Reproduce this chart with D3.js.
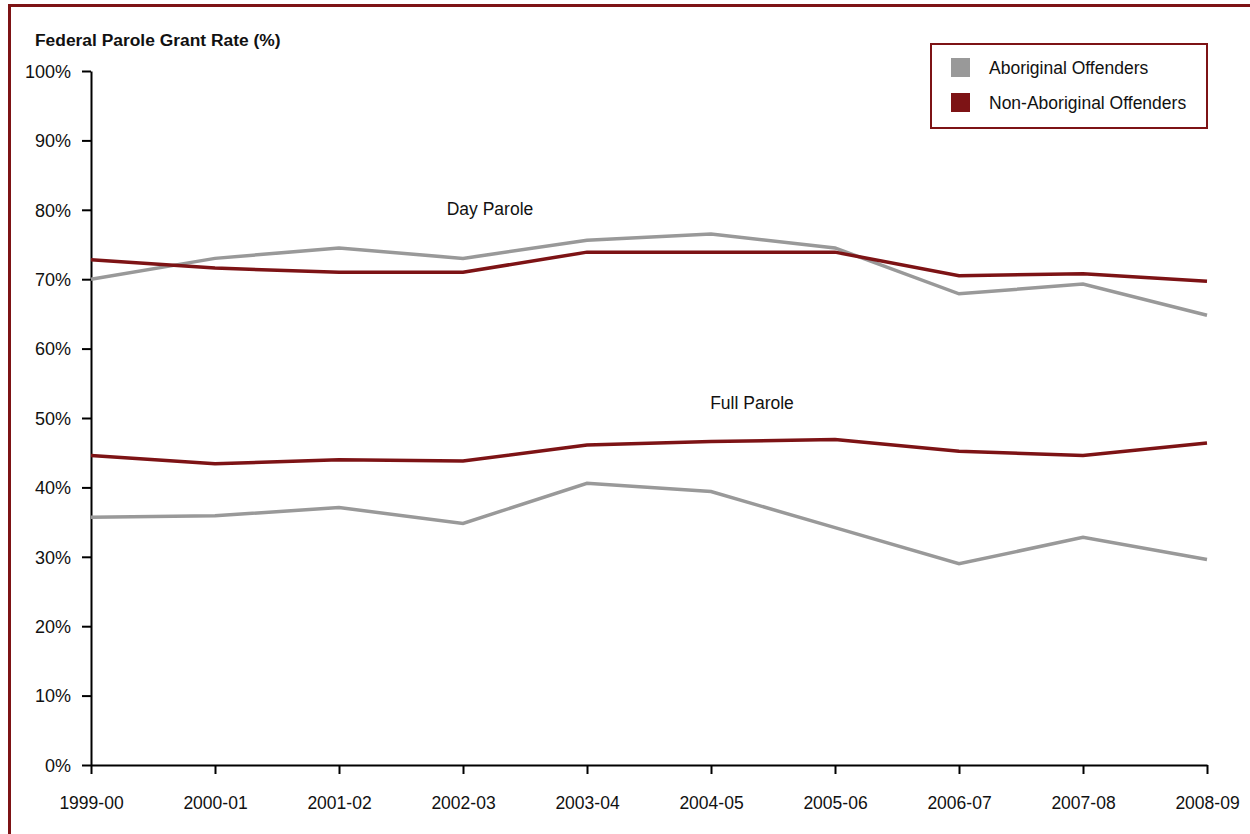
<!DOCTYPE html>
<html>
<head>
<meta charset="utf-8">
<script src="https://cdn.jsdelivr.net/npm/d3@7"></script>
<style>
  html, body { margin: 0; padding: 0; background: #fff; }
  svg { display: block; font-family: "Liberation Sans", Arial, sans-serif; }
</style>
</head>
<body>
<svg id="chart" width="1250" height="834"></svg>
<script>
const years = ["1999-00","2000-01","2001-02","2002-03","2003-04","2004-05","2005-06","2006-07","2007-08","2008-09"];
const dayAboriginal    = [70.0, 73.0, 74.5, 73.0, 75.6, 76.5, 74.5, 67.9, 69.3, 64.8];
const dayNonAboriginal = [72.8, 71.6, 71.0, 71.0, 73.9, 73.9, 73.9, 70.5, 70.8, 69.7];
const fullAboriginal    = [35.7, 35.9, 37.1, 34.8, 40.6, 39.4, 34.2, 29.0, 32.8, 29.6];
const fullNonAboriginal = [44.6, 43.4, 44.0, 43.8, 46.1, 46.6, 46.9, 45.2, 44.6, 46.4];
const yTicks = [0,10,20,30,40,50,60,70,80,90,100];
const legendLabels = ["Aboriginal Offenders", "Non-Aboriginal Offenders"];

const GRAY = "#999999", RED = "#7d1315";
const svg = d3.select("#chart");

// outer frame (top and left)
svg.append("line").attr("x1", 8).attr("x2", 1250).attr("y1", 5.5).attr("y2", 5.5)
  .attr("stroke", RED).attr("stroke-width", 3);
svg.append("line").attr("x1", 9.5).attr("x2", 9.5).attr("y1", 4).attr("y2", 834)
  .attr("stroke", RED).attr("stroke-width", 3);

const x = d3.scalePoint().domain(years).range([91, 1207]);
const y = d3.scaleLinear().domain([0, 100]).range([765, 71]);

const yAxis = svg.append("g").attr("transform", "translate(91,0)")
  .call(d3.axisLeft(y).tickValues(yTicks).tickFormat(d => d + "%").tickSize(9).tickSizeOuter(0));
const xAxis = svg.append("g").attr("transform", "translate(0,765)")
  .call(d3.axisBottom(x).tickSize(9).tickSizeOuter(0));
[yAxis, xAxis].forEach(g => {
  g.select(".domain").attr("stroke", "#000").attr("stroke-width", 2);
  g.selectAll(".tick line").attr("stroke", "#000").attr("stroke-width", 2);
  g.selectAll(".tick text").attr("fill", "#111")
   .style("font-family", "'Liberation Sans', Arial, sans-serif");
});
yAxis.selectAll(".tick text").style("font-size", "18px").attr("x", -20).attr("dy", "0.35em");
xAxis.selectAll(".tick text").style("font-size", "17.5px").attr("y", 38).attr("dy", "0.35em");

const line = d3.line().x((d, i) => x(years[i])).y(d => y(d));
const series = [
  [dayAboriginal, GRAY], [fullAboriginal, GRAY],
  [dayNonAboriginal, RED], [fullNonAboriginal, RED]
];
series.forEach(([vals, c]) => {
  svg.append("path").datum(vals).attr("d", line).attr("fill", "none")
    .attr("stroke", c).attr("stroke-width", 3.5).attr("stroke-linejoin", "miter");
});

// annotations
svg.append("text").attr("x", 490).attr("y", 209).attr("dy", "0.35em")
  .attr("text-anchor", "middle").style("font-size", "17.5px").attr("fill", "#111").text("Day Parole");
svg.append("text").attr("x", 752).attr("y", 403).attr("dy", "0.35em")
  .attr("text-anchor", "middle").style("font-size", "17.5px").attr("fill", "#111").text("Full Parole");

// y-axis title
svg.append("text").attr("x", 35).attr("y", 40).attr("dy", "0.35em")
  .style("font-size", "17.4px").style("font-weight", "bold").attr("fill", "#111")
  .text("Federal Parole Grant Rate (%)");

// legend
const lg = svg.append("g");
lg.append("rect").attr("x", 931).attr("y", 44).attr("width", 276).attr("height", 84)
  .attr("fill", "#fff").attr("stroke", RED).attr("stroke-width", 2);
legendLabels.forEach((lab, i) => {
  const cy = 67.5 + i * 35;
  lg.append("rect").attr("x", 951).attr("y", cy - 9.5).attr("width", 19).attr("height", 19)
    .attr("fill", i === 0 ? GRAY : RED);
  lg.append("text").attr("x", 989).attr("y", cy).attr("dy", "0.35em")
    .style("font-size", "17.5px").attr("fill", "#111").text(lab);
});
</script>
</body>
</html>
